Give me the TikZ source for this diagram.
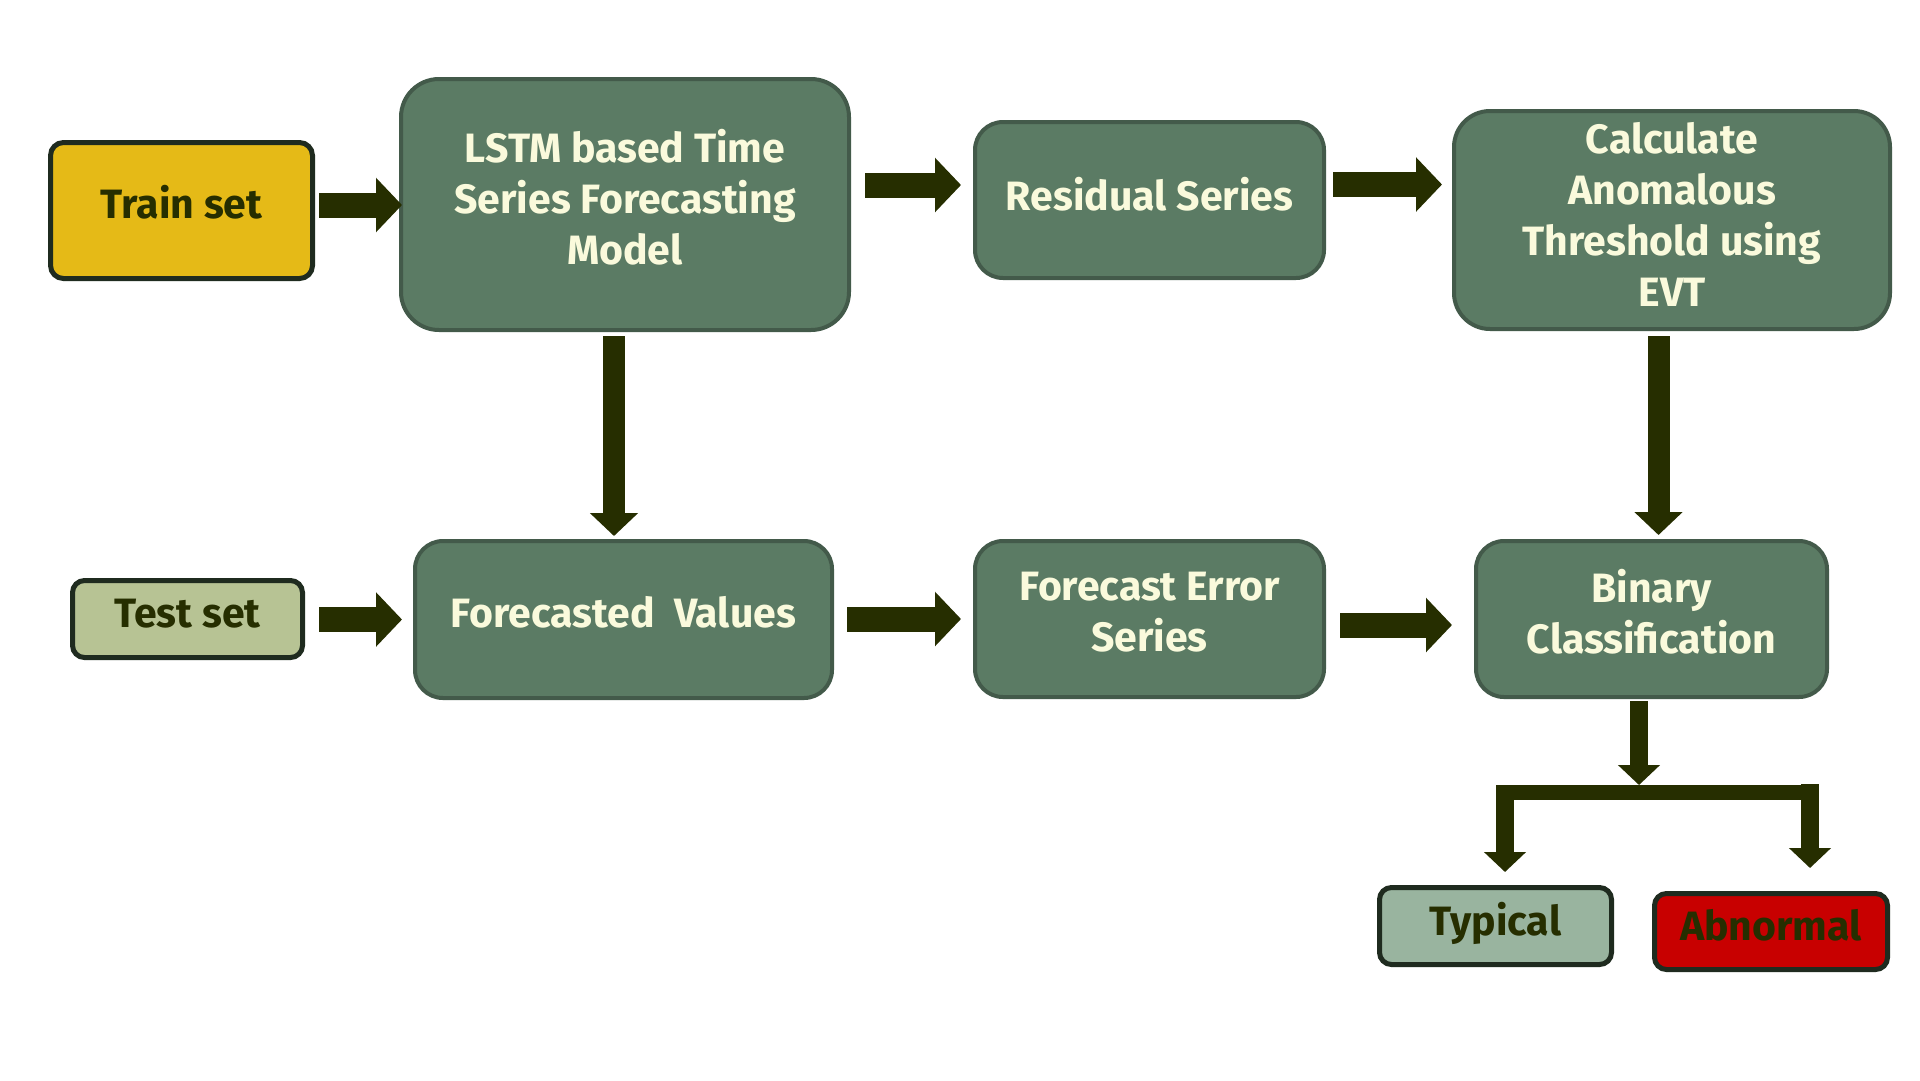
\documentclass[tikz,border=0pt]{standalone}
\usepackage{fontspec}
\usetikzlibrary{arrows.meta,calc}
\newfontfamily\boxfont{Fira Sans}
\definecolor{gfill}{HTML}{5B7B64}
\definecolor{gborder}{HTML}{435A4A}
\definecolor{cream}{HTML}{FAFADC}
\definecolor{arr}{HTML}{262E00}
\definecolor{trainfill}{HTML}{E5BA17}
\definecolor{testfill}{HTML}{B7C394}
\definecolor{typfill}{HTML}{99B49F}
\definecolor{abnfill}{HTML}{C80000}
\definecolor{darkline}{HTML}{1F2B1F}
\tikzset{
  txt/.style={font=\boxfont\bfseries\fontsize{41}{51}\selectfont, align=center, inner sep=0pt},
  ltxt/.style={txt, text=cream},
  dtxt/.style={txt, text=arr},
  gbox/.style={draw=gborder, fill=gfill, line width=4pt, rounded corners=28pt, inner sep=0pt},
  sbox/.style={draw=darkline, line width=5pt, rounded corners=13pt, inner sep=0pt},
  harrow/.style={draw=arr, line width=25pt, -{Triangle[length=26pt,width=53pt]}},
  varrow/.style={draw=arr, line width=22pt, -{Triangle[length=23pt,width=47pt]}},
  sarrow/.style={draw=arr, line width=18pt, -{Triangle[length=20pt,width=41pt]}},
}
\begin{document}
\begin{tikzpicture}[x=1pt,y=-1pt]
\fill[white] (0,0) rectangle (1920,1080);
\useasboundingbox (0,0) rectangle (1920,1080);

% boxes
\node[sbox, fill=trainfill, minimum width=262pt, minimum height=136pt] (train) at (181.5,210.5) {};
\node[gbox, rounded corners=38pt, minimum width=448pt, minimum height=251pt] (lstm) at (625,204.5) {};
\node[gbox, minimum width=349pt, minimum height=156pt] (res) at (1149.5,200) {};
\node[gbox, rounded corners=36pt, minimum width=436pt, minimum height=218pt] (calc) at (1672,220) {};
\node[sbox, fill=testfill, rounded corners=12pt, minimum width=230pt, minimum height=77pt] (test) at (187.5,619) {};
\node[gbox, minimum width=417pt, minimum height=157pt] (fv) at (623.5,619.5) {};
\node[gbox, minimum width=349pt, minimum height=156pt] (fe) at (1149.5,619) {};
\node[gbox, minimum width=351pt, minimum height=156pt] (bin) at (1651.5,619) {};
\node[sbox, fill=typfill, rounded corners=12pt, minimum width=232pt, minimum height=77pt] (typ) at (1495.5,926) {};
\node[sbox, fill=abnfill, rounded corners=12pt, minimum width=233pt, minimum height=76pt] (abn) at (1771,931.5) {};

% texts
\node[dtxt] (train-t) at ([yshift=8pt]train.center) {Train set};
\node[ltxt] (lstm-t) at ([yshift=7pt]lstm.center) {LSTM based Time\\Series Forecasting\\Model};
\node[ltxt] (res-t) at ([yshift=6pt]res.center) {Residual Series};
\node[ltxt] (calc-t) at ([yshift=6pt]calc.center) {Calculate\\Anomalous\\Threshold using\\EVT};
\node[dtxt] (test-t) at ([yshift=5pt]test.center) {Test set};
\node[ltxt] (fv-t) at ([yshift=7pt]fv.center) {Forecasted\ \ Values};
\node[ltxt] (fe-t) at ([yshift=7pt]fe.center) {Forecast Error\\Series};
\node[ltxt] (bin-t) at ([yshift=7pt]bin.center) {Binary\\Classification};
\node[dtxt] (typ-t) at ([yshift=3pt]typ.center) {Typical};
\node[dtxt] (abn-t) at ([yshift=6pt]abn.center) {Abnormal};

% horizontal arrows
\draw[harrow, shorten <=4pt, shorten >=-3pt] ([yshift=-0.5pt]lstm.west -| train.east) -- ([yshift=-0.5pt]lstm.west);
\coordinate (a1) at ([yshift=15pt]res.west);
\draw[harrow, shorten <=14pt, shorten >=12pt] (a1 -| lstm.east) -- (a1);
\coordinate (a2) at ([yshift=35.5pt]calc.west);
\draw[harrow, shorten <=7pt, shorten >=10pt] (a2 -| res.east) -- (a2);
\draw[harrow, shorten <=14pt, shorten >=11pt] (fv.west -| test.east) -- (fv.west);
\draw[harrow, shorten <=13pt, shorten >=12pt] (fe.west -| fv.east) -- (fe.west);
\coordinate (a3) at ([yshift=-6pt]bin.west);
\draw[harrow, shorten <=14pt, shorten >=22pt] (a3 -| fe.east) -- (a3);

% vertical arrows
\coordinate (v1) at ([xshift=-11pt]lstm.south);
\draw[varrow, shorten <=4pt, shorten >=3pt] (v1) -- (v1 |- fv.north);
\coordinate (v2) at ([xshift=7pt]bin.north);
\draw[varrow, shorten <=5pt, shorten >=4pt] (v2 |- calc.south) -- (v2);

% split
\coordinate (split) at (1639,785);
\coordinate (bl) at (1505,785);
\coordinate (br) at (1810,784);
\draw[sarrow, shorten <=2pt] (bin.south -| split) -- (split);
\draw[draw=arr, line width=15pt] ([xshift=-9pt,yshift=-7.5pt]bl) -- ([xshift=9pt,yshift=-8.5pt]br);
\draw[sarrow, shorten >=13pt] (bl) -- (bl |- typ.north);
\draw[sarrow, shorten >=23pt] (br) -- (br |- abn.north);
\end{tikzpicture}
\end{document}
